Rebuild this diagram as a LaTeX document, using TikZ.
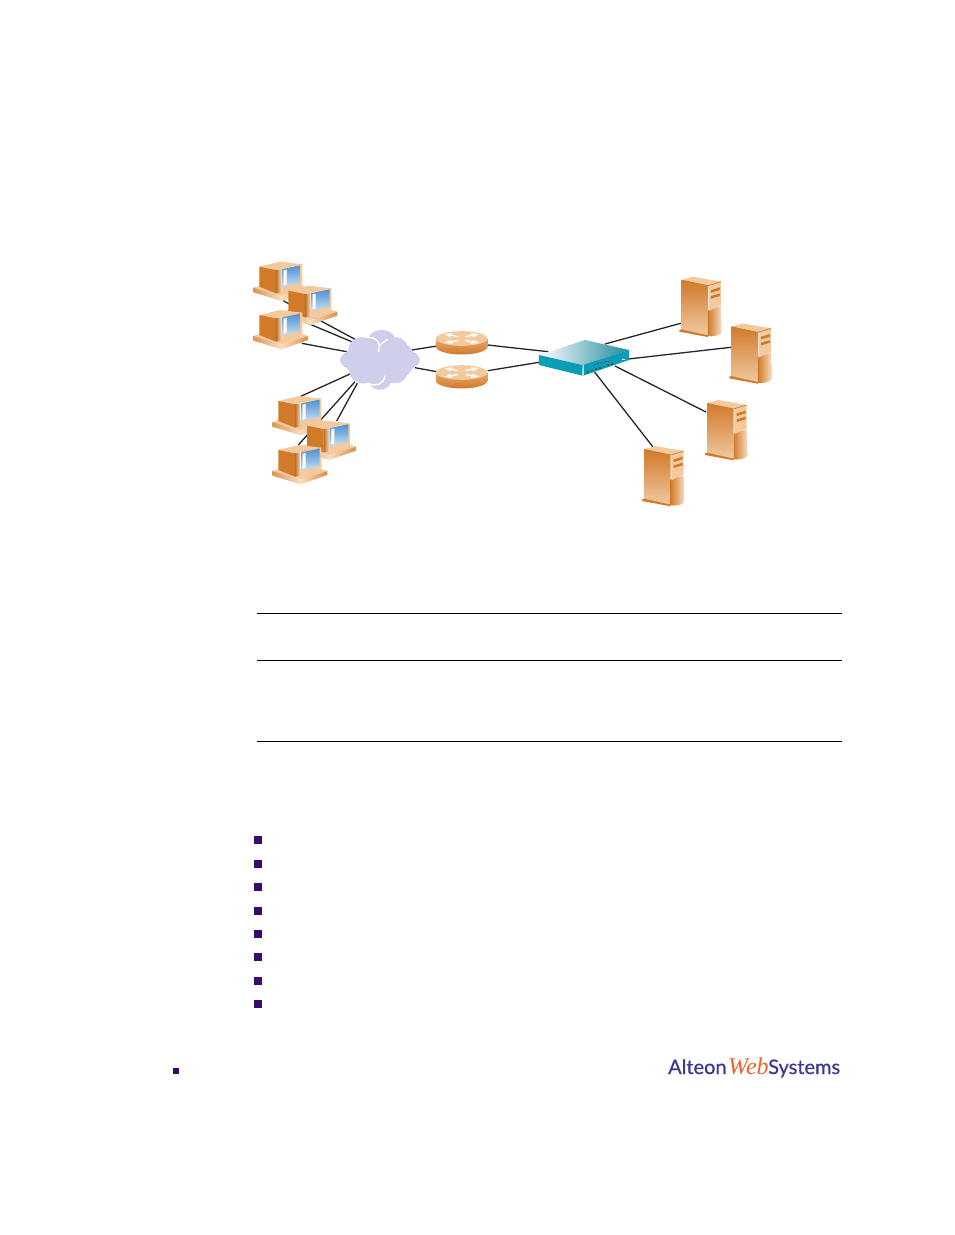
\documentclass[tikz,border=0pt]{standalone}
\usepackage{fontspec}
\setmainfont{Lato}
\newfontfamily\logofont[FakeBold=0.6]{Lato}
\newfontfamily\webfont{Liberation Serif}
\definecolor{dk}{HTML}{D17A2A}
\definecolor{lt}{HTML}{F3C99E}
\definecolor{pale}{HTML}{F8DDBF}
\definecolor{cloudc}{HTML}{CFCFEC}
\definecolor{teal}{HTML}{0B9DB8}
\definecolor{bul}{HTML}{3A0A6E}
\definecolor{logob}{HTML}{3A3A96}
\definecolor{logoo}{HTML}{F0622D}
\definecolor{scrA}{HTML}{4F8FD0}
\definecolor{scrB}{HTML}{C4E2F6}
\tikzset{
  x=1pt,y=-1pt,
  link/.style={line width=1.3pt,draw=black!85},
  rulel/.style={line width=.7pt,draw=black},
  bullet/.style={fill=bul,draw=none,minimum size=8pt,inner sep=0pt,shape=rectangle},
  logot/.style={font=\logofont\fontsize{20}{20}\selectfont,text=logob,inner sep=0pt,anchor=base west},
  pics/computer/.style={code={
    \fill[lt] (0,78)--(20,72)--(145,72)--(165,78)--(85,103)--cycle;
    \shade[left color=dk!65!lt,right color=pale] (0,78)--(85,103)--(85,118)--(0,92)--cycle;
    \shade[left color=pale,right color=dk!75!lt] (85,103)--(165,78)--(165,90)--(85,118)--cycle;
    \fill[lt] (18,15)--(80,0)--(147,8)--(68,25)--cycle;
    \fill[dk] (18,15)--(68,25)--(68,95)--(18,75)--cycle;
    \shade[left color=dk!90!black,right color=pale] (68,25)--(85,22)--(85,92)--(68,95)--cycle;
    \fill[lt] (85,22)--(147,8)--(147,72)--(85,92)--cycle;
    \shade[top color=scrA,bottom color=scrB] (88,22)--(142,11)--(142,62)--(88,76)--cycle;
    \fill[white] (91,26)--(100,24)--(100,68)--(91,71)--cycle;
  }},
  pics/server/.style={code={
    \fill[lt] (6,10)--(40,0)--(125,15)--(88,27)--cycle;
    \shade[top color=dk,bottom color=pale!80!dk] (6,10)--(86,27)--(86,178)--(6,160)--cycle;
    \shade[left color=dk,right color=pale] (86,100)--(125,88)--(127,168) .. controls (118,178) and (100,180) .. (86,178)--cycle;
    \fill[lt] (88,28)--(125,15)--(125,85)--(88,103)--cycle;
    \fill[dk] (0,160)--(6,158)--(86,176)--(86,181)--(0,165)--cycle;
    \draw[dk,line width=.7pt] (6,10)--(86,27)--(125,15);
    \fill[dk] (95,40)--(122,32)--(122,40)--(95,48)--cycle;
    \fill[dk] (95,58)--(122,50)--(122,58)--(95,66)--cycle;
  }},
  pics/router/.style={code={
    \shade[top color=lt!60!dk,bottom color=dk]
      (-77,0) -- (-77,25) arc[start angle=180,end angle=0,x radius=77,y radius=23] -- (77,0) -- cycle;
    \fill[lt] (0,0) ellipse[x radius=77,y radius=22];
    \foreach \sx/\sy in {1/1,-1/1,1/-1,-1/-1}{
      \fill[white,xscale=\sx,yscale=\sy] (14,4)--(32,8)--(34,4)--(52,13)--(28,16)--(30,12)--(10,7)--cycle;
    }
  }}
}
\begin{document}
\begin{tikzpicture}
\useasboundingbox (0,0) rectangle (954,1235);
\fill[white] (0,0) rectangle (954,1235);
% connector ends
\coordinate (pcA) at (283.3,300.7);
\coordinate (pcB) at (300,320);
\coordinate (pcC) at (301.7,343.3);
\coordinate (pcD) at (300,396.7);
\coordinate (pcE) at (298.3,445);
\coordinate (pcF) at (336.7,421);
\coordinate (clA) at (355,339.3);
\coordinate (clB) at (351.7,341.7);
\coordinate (clC) at (346.7,351.7);
\coordinate (clD) at (350,374);
\coordinate (clE) at (355,381.7);
\coordinate (clF) at (357.3,383.3);
\coordinate (clG) at (411.7,350);
\coordinate (clH) at (415,367.7);
\coordinate (rtAl) at (437,346);
\coordinate (rtBl) at (437,371.7);
\coordinate (rtAr) at (487.7,345);
\coordinate (rtBr) at (487.7,370.7);
\coordinate (swA) at (548.3,351.7);
\coordinate (swB) at (539,362.3);
\coordinate (swC) at (605,344);
\coordinate (swD) at (628.3,359);
\coordinate (swE) at (615,366);
\coordinate (swF) at (594.3,371.7);
\coordinate (srvA) at (680.7,323.3);
\coordinate (srvB) at (731,347.3);
\coordinate (srvC) at (706,412);
\coordinate (srvD) at (653,447);
\foreach \a/\b in {pcA/clA,pcB/clB,pcC/clC,pcD/clD,pcE/clE,pcF/clF,clG/rtAl,clH/rtBl,rtAr/swA,rtBr/swB,swC/srvA,swD/srvB,swE/srvC,swF/srvD}
  \draw[link] (\a)--(\b);
% cloud
\begin{scope}[shift={(240,250)},scale=.3333]
\fill[cloudc] (425,280) ellipse[x radius=45,y radius=40]
 (365,300) ellipse[x radius=40,y radius=38]
 (470,300) ellipse[x radius=35,y radius=38]
 (340,330) ellipse[x radius=40,y radius=28]
 (500,330) ellipse[x radius=40,y radius=28]
 (370,365) ellipse[x radius=42,y radius=35]
 (465,365) ellipse[x radius=38,y radius=35]
 (420,385) ellipse[x radius=35,y radius=35]
 (420,330) ellipse[x radius=105,y radius=72];
\draw[white,line width=1.4pt,line cap=round] (385,262) .. controls (410,262) and (425,280) .. (415,305);
\draw[white,line width=1.4pt,line cap=round] (442,268) -- (420,285);
\draw[white,line width=1.4pt,line cap=round] (385,400) .. controls (410,412) and (432,400) .. (435,378);
\end{scope}
% computers
\pic[scale=.3333] (pc1) at (253.3,261.7) {computer};
\pic[scale=.3333] (pc2) at (282.3,285.7) {computer};
\pic[scale=.3333] (pc3) at (253.3,310) {computer};
\pic[scale=.3333] (pc4) at (272.3,396) {computer};
\pic[scale=.3333] (pc5) at (301,420.7) {computer};
\pic[scale=.3333] (pc6) at (272.3,445) {computer};
% routers
\pic[scale=.3333] (rt1) at (461.7,338.5) {router};
\pic[scale=.3333] (rt2) at (461.7,372.5) {router};
% switch
\begin{scope}[shift={(420,310)},scale=.3333]
\shade[left color=white,right color=teal!80!black!90] (357,135)--(495,90)--(627,120)--(487,165)--cycle;
\fill[teal] (357,135)--(487,165)--(487,197)--(357,165)--cycle;
\fill[teal] (487,165)--(627,120)--(627,150)--(490,197)--cycle;
\draw[white!70!teal,line width=.5pt] (489,166)--(489,196);
\foreach \i in {0,...,6}{
  \fill[black!70] ({500+\i*12},{183-\i*4}) rectangle +(6,5);
  \fill[black!70] ({524+\i*8},{162-\i*2}) rectangle +(4,3);
}
\fill[white] (606,146) rectangle +(9,4);
\end{scope}
% servers
\pic[scale=.3333] (srv1) at (679.3,276.7) {server};
\pic[scale=.3333] (srv2) at (729.3,323.4) {server};
\pic[scale=.3333] (srv3) at (705,400) {server};
\pic[scale=.3333] (srv4) at (642,446) {server};
% rules
\coordinate (rAl) at (257,613.5); \coordinate (rAr) at (842,613.5);
\coordinate (rBl) at (257,660.5); \coordinate (rBr) at (842,660.5);
\coordinate (rCl) at (257,741.5); \coordinate (rCr) at (842,741.5);
\draw[rulel] (rAl)--(rAr);
\draw[rulel] (rBl)--(rBr);
\draw[rulel] (rCl)--(rCr);
% bullets
\foreach \n/\y in {1/840,2/863.5,3/887,4/910.5,5/934,6/957,7/980.5,8/1004}
  \node[bullet] (b\n) at (258,\y) {};
\node[bullet,minimum size=6pt] (b9) at (175.5,1070.5) {};
% logo
\node[logot] (logoA) at (668,1074) {Alteon};
\node[inner sep=0pt,anchor=base west,text=logoo] (logoB) at (728,1074) {\webfont\itshape\fontsize{24}{24}\selectfont Web};
\node[logot] (logoC) at (768,1074) {Systems};
\end{tikzpicture}
\end{document}
